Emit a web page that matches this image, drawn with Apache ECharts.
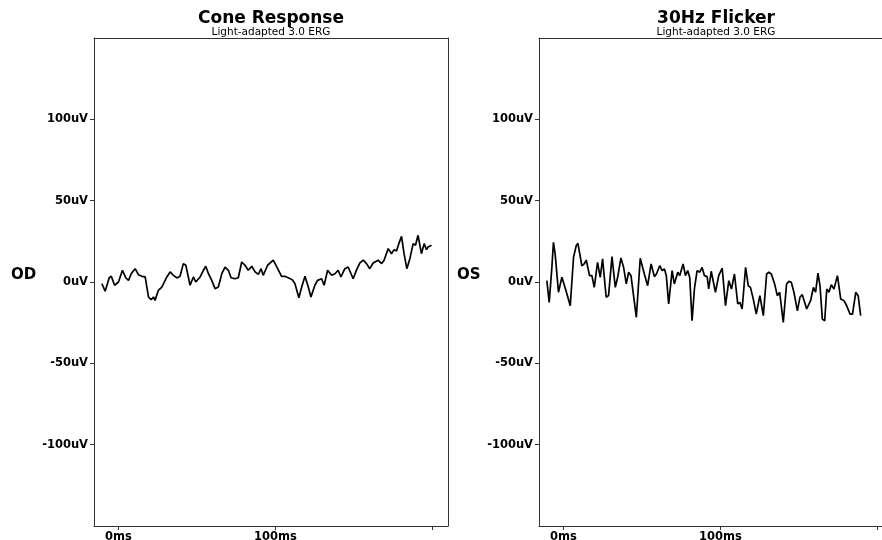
<!DOCTYPE html>
<html>
<head>
<meta charset="utf-8">
<script src="https://cdn.jsdelivr.net/npm/echarts@6/dist/echarts.min.js"></script>
<style>
html,body{margin:0;padding:0;background:#fff;}
#chart{width:882px;height:540px;}
</style>
</head>
<body>
<div id="chart"></div>
<script>
// ---- data ----
var panelTitles = ['Cone Response', '30Hz Flicker'];
var panelSubtitles = ['Light-adapted 3.0 ERG', 'Light-adapted 3.0 ERG'];
var eyeLabels = ['OD', 'OS'];
var xTickValues = [0, 100, 200];
var xLabelValues = [0, 100];
var yTickValues = [-100, -50, 0, 50, 100];

// Cone response (OD): time in ms
var coneTime = [-10.6,-8.5,-5.9,-4.6,-2.5,0,2.5,4.7,6.4,8.1,10.6,12.7,14.9,17.0,19.1,20.8,22.3,23.3,25.4,27.6,28.6,30.8,32.9,35.0,37.2,39.2,41.3,42.9,45.6,47.7,49.2,52.0,54.1,55.6,57.3,59.4,61.5,63.6,65.8,67.9,70.0,71.7,74.2,76.3,78.5,80.6,82.7,84.9,87.0,89.1,90.8,92.2,95.0,98.6,101.4,103.9,106.0,108.1,110.7,112.4,114.9,116.7,118.8,120.9,122.6,125.1,126.8,129.4,131.0,133.2,135.8,137.9,139.9,141.7,144.2,146.3,149.5,151.7,153.8,155.9,158.0,160.1,162.2,165.4,167.6,169.2,171.8,173.9,175.6,177.1,178.6,180.3,181.9,183.7,185.6,187.7,189.2,190.8,193.0,194.7,196.2,197.2,199.4];
// amplitude in uV
var coneAmp = [-1.0,-5.7,2.6,3.5,-2.0,0,7.2,2.6,1.0,5.1,8.2,4.5,3.5,3.1,-9.2,-10.9,-9.2,-11.3,-5.1,-3.1,-4.1,3.1,6.2,4.1,2.5,3.5,11.3,10.3,-2.0,3.1,0,3.1,7.2,9.7,5.1,1.0,-4.1,-3.1,5.1,9.2,7.2,2.6,2.0,2.6,12.3,10.3,7.2,9.7,6.2,4.7,8.2,4.1,10.3,13.4,8.2,3.5,3.5,2.6,1.4,-1.0,-9.7,-3.1,3.5,-3.1,-9.2,-2.0,1.0,2.0,-2.0,7.2,4.1,5.1,7.2,3.1,8.2,9.2,2.0,7.6,11.7,13.4,11.3,8.2,11.7,13.4,11.3,13.4,20.5,17.4,19.9,19.1,23.6,28.1,17.4,8.2,14.3,23.6,22.6,28.7,17.4,23.6,19.9,21.5,22.6];

// 30Hz flicker (OS): time in ms
var flickerTime = [-10.6,-9.1,-7.4,-6.4,-5.3,-3.2,-1.0,0,1.7,2.6,4.3,4.9,6.4,8.1,9.2,11.7,13.2,14.5,16.6,18.1,19.6,21.7,23.4,24.9,27.2,28.7,30.9,33.0,34.5,36.6,38.3,40.0,41.5,43.0,46.4,47.2,48.9,50.0,51.5,53.6,55.8,57.9,59.2,61.3,62.8,64.3,65.5,67.0,69.2,70.6,72.8,74.0,76.2,77.7,79.1,80.4,81.9,83.4,85.1,86.8,88.3,89.8,91.5,92.5,94.1,95.3,96.8,98.9,101.1,103.2,105.3,107.0,108.9,111.0,112.3,113.8,116.0,117.7,119.1,120.9,122.8,125.1,127.3,129.4,130.8,132.4,134.5,136.2,137.7,140.0,142.1,143.6,145.1,146.8,149.0,150.6,152.1,153.6,154.9,157.4,159.2,160.6,162.1,163.4,164.9,166.4,167.7,169.1,170.6,172.3,174.5,176.6,178.7,180.4,182.5,184.1,186.2,187.7,189.3];
// amplitude in uV
var flickerAmp = [0.8,-12.5,9.0,24.4,17.2,-6.3,2.9,2.9,-5.7,-6.3,-14.6,-15.6,15.2,22.3,23.8,10.0,11.1,13.5,3.9,3.9,-3.3,12.1,2.9,14.2,-9.4,-8.4,15.6,-3.3,2.9,14.8,9.0,-1.2,6.0,3.9,-21.7,-20.7,14.6,13.5,4.9,-2.3,11.1,3.3,4.9,10.0,7.0,8.0,3.9,-13.5,7.0,-1.2,6.0,3.9,11.1,3.9,7.0,2.9,-23.8,-4.3,7.0,6.0,9.0,3.9,3.3,-4.3,6.6,6.0,-6.3,3.9,8.6,-14.6,0.8,-4.3,4.9,-13.5,-12.5,-16.6,9.0,-2.3,-3.3,-10.5,-19.7,-8.4,-20.7,4.9,6.0,4.9,-1.2,-8.4,-6.3,-24.8,-1.2,0.4,-0.2,-6.3,-17.7,-9.4,-7.8,-12.5,-16.6,-11.5,-3.3,-6.3,5.4,-2.3,-22.8,-23.8,-4.3,-6.3,-1.7,-4.3,3.9,-10.5,-11.5,-14.6,-19.7,-19.7,-6.3,-8.4,-20.7];

function pairs(xs, ys) {
  var out = [];
  for (var i = 0; i < xs.length; i++) out.push([xs[i], ys[i]]);
  return out;
}

var FONT = 'DejaVu Sans';
var AXIS_COLOR = '#333';
var X_MIN = -15.6, X_MAX = 209.9, Y_MIN = -150, Y_MAX = 150;

var grids = [
  {left: 94, right: 434, top: 38, bottom: 14, containLabel: false, outerBoundsMode: 'none'},
  {left: 539, right: -11, top: 38, bottom: 14, containLabel: false, outerBoundsMode: 'none'}
];

function lineOnly(extra) {
  return Object.assign({
    type: 'value', splitLine: {show: false},
    axisLine: {show: true, onZero: false, lineStyle: {color: AXIS_COLOR, width: 1}},
    axisTick: {show: false}, axisLabel: {show: false}
  }, extra);
}

function xAxisFor(i) {
  return {
    gridIndex: i, type: 'value', min: X_MIN, max: X_MAX, position: 'bottom',
    splitLine: {show: false},
    axisLine: {show: true, onZero: false, lineStyle: {color: AXIS_COLOR, width: 1}},
    axisTick: {show: true, length: 4, customValues: xTickValues, lineStyle: {color: AXIS_COLOR}},
    axisLabel: {
      customValues: xLabelValues, margin: 5,
      fontFamily: FONT, fontWeight: 'bold', fontSize: 11.5, color: '#000',
      formatter: function (v) { return v + 'ms'; }
    }
  };
}
function yAxisFor(i) {
  return {
    gridIndex: i, type: 'value', min: Y_MIN, max: Y_MAX, position: 'left',
    splitLine: {show: false},
    axisLine: {show: true, onZero: false, lineStyle: {color: AXIS_COLOR, width: 1}},
    axisTick: {show: true, length: 4, customValues: yTickValues, lineStyle: {color: AXIS_COLOR}},
    axisLabel: {
      customValues: yTickValues, margin: 6,
      fontFamily: FONT, fontWeight: 'bold', fontSize: 11.5, color: '#000',
      formatter: function (v) { return v + 'uV'; }
    }
  };
}

var chart = echarts.init(document.getElementById('chart'), null, {renderer: 'canvas'});
var option = {
  animation: false,
  backgroundColor: '#fff',
  grid: grids,
  title: [0, 1].map(function (i) {
    var cx = i === 0 ? 271 : 716;
    return {
      text: panelTitles[i], subtext: panelSubtitles[i],
      left: cx, top: 10, textAlign: 'center', itemGap: 0, padding: 0,
      textStyle: {fontFamily: FONT, fontWeight: 'bold', fontSize: 17, color: '#000'},
      subtextStyle: {fontFamily: FONT, fontSize: 10.5, color: '#000'}
    };
  }),
  graphic: [
    {type: 'text', left: 11, top: 268, style: {text: eyeLabels[0], fontFamily: FONT, fontWeight: 'bold', fontSize: 15, fill: '#000'}},
    {type: 'text', left: 457, top: 268, style: {text: eyeLabels[1], fontFamily: FONT, fontWeight: 'bold', fontSize: 15, fill: '#000'}}
  ],
  xAxis: [
    xAxisFor(0), xAxisFor(1),
    lineOnly({gridIndex: 0, min: X_MIN, max: X_MAX, position: 'top'}),
    lineOnly({gridIndex: 1, min: X_MIN, max: X_MAX, position: 'top'})
  ],
  yAxis: [
    yAxisFor(0), yAxisFor(1),
    lineOnly({gridIndex: 0, min: Y_MIN, max: Y_MAX, position: 'right'}),
    lineOnly({gridIndex: 1, min: Y_MIN, max: Y_MAX, position: 'right'})
  ],
  series: [
    {type: 'line', xAxisIndex: 0, yAxisIndex: 0, data: pairs(coneTime, coneAmp), showSymbol: false, symbol: 'none',
     lineStyle: {color: '#000', width: 1.7}},
    {type: 'line', xAxisIndex: 1, yAxisIndex: 1, data: pairs(flickerTime, flickerAmp), showSymbol: false, symbol: 'none',
     lineStyle: {color: '#000', width: 1.7}}
  ]
};
chart.setOption(option);
</script>
</body>
</html>
